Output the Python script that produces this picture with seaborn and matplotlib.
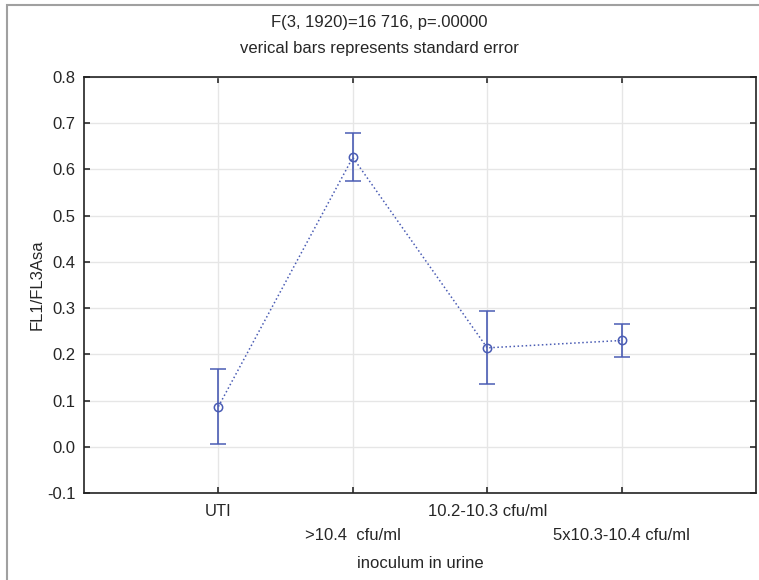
import numpy as np
import pandas as pd
import seaborn as sns
import matplotlib.pyplot as plt
from matplotlib.patches import Rectangle

# data
groups = ["UTI", ">10.4  cfu/ml", "10.2-10.3 cfu/ml", "5x10.3-10.4 cfu/ml"]
means = [0.087, 0.626, 0.214, 0.230]
se = [0.082, 0.052, 0.079, 0.036]

df = pd.DataFrame({"pos": np.arange(len(groups)), "mean": means, "se": se})

sns.set_theme(style="white")
plt.rcParams["font.family"] = ["Liberation Sans", "DejaVu Sans"]

fig = plt.figure(figsize=(7.59, 5.80), dpi=100)
ax = fig.add_axes([84 / 759, 1 - 493 / 580, (756 - 84) / 759, (493 - 77) / 580])

col = "#4a5cb4"
sns.lineplot(data=df, x="pos", y="mean", ax=ax, color=col, linestyle=":", linewidth=1.1)
ax.errorbar(df["pos"], df["mean"], yerr=df["se"], fmt="o", mfc="none", mec=col,
            ecolor=col, ms=6, mew=1.1, elinewidth=1.2, capsize=5.5, capthick=1.2)

ax.set_xlim(-1, 4)
ax.set_ylim(-0.1, 0.8)
yt = np.round(np.arange(-0.1, 0.81, 0.1), 1)
ax.set_yticks(yt)
ax.set_yticklabels([f"{v:.1f}" for v in yt])
ax.set_xticks(df["pos"])
ax.set_xticklabels(groups)
for i, lab in enumerate(ax.get_xticklabels()):
    if i % 2 == 1:
        lab.set_y(-0.058)
ax.tick_params(axis="both", direction="in", length=4, labelsize=12, color="#333333",
               top=True, right=True, bottom=True, left=True, pad=6)
ax.tick_params(axis="x", pad=8)
ax.grid(True, color="#e6e6e6", linewidth=1)
for s in ax.spines.values():
    s.set_color("#222222")
    s.set_linewidth(1.2)

ax.set_xlabel("inoculum in urine", fontsize=12)
ax.xaxis.set_label_coords(0.5, -70 / 416, transform=ax.transAxes)
ax.xaxis.label.set_va("center")
ax.set_ylabel("FL1/FL3Asa", fontsize=12)
ax.yaxis.set_label_coords(-47 / 672, 0.5, transform=ax.transAxes)
ax.yaxis.label.set_va("center")
fig.text(0.5, 1 - 22 / 580, "F(3, 1920)=16 716, p=.00000", ha="center", va="center", fontsize=12)
fig.text(0.5, 1 - 48 / 580, "verical bars represents standard error", ha="center", va="center", fontsize=12)

# outer frame of the original export
fig.patches.append(Rectangle((7 / 759, -0.01), 1.02, 1 - 5 / 580 + 0.01, transform=fig.transFigure,
                             fill=False, edgecolor="#a0a0a0", linewidth=1.5))

fig.savefig("out.png", dpi=100)
